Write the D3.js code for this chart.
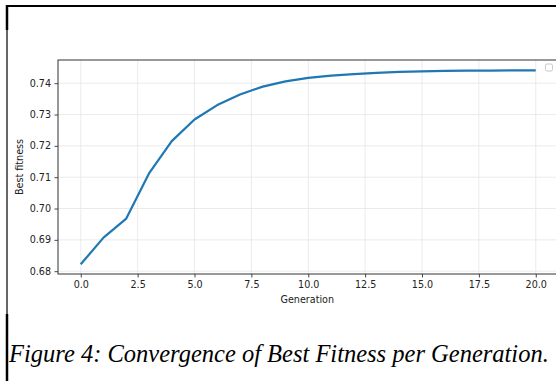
<!DOCTYPE html>
<html>
<head>
<meta charset="utf-8">
<script src="https://cdn.jsdelivr.net/npm/d3@7"></script>
<style>
  body { margin: 0; background: #fff; }
  svg { display: block; }
  .caption { font-family: "Liberation Serif", "Times New Roman", Times, serif; font-style: italic; }
</style>
</head>
<body>
<svg id="chart" width="556" height="381"></svg>
<script>
// chart values
const generations = d3.range(0, 21);
const bestFitness = [0.6822, 0.6907, 0.6968, 0.7112, 0.7215, 0.7284, 0.7330, 0.7364,
    0.7389, 0.7406, 0.7417, 0.7424, 0.7429, 0.7433, 0.7436, 0.7438, 0.7439,
    0.7440, 0.7440, 0.7441, 0.7441];
const xTicks = [0, 2.5, 5, 7.5, 10, 12.5, 15, 17.5, 20];
const yTicks = [0.68, 0.69, 0.70, 0.71, 0.72, 0.73, 0.74];
const caption = 'Figure 4: Convergence of Best Fitness per Generation.';

const svg = d3.select('#chart');

// page frame
svg.append('line').attr('x1', 6).attr('x2', 556).attr('y1', 6).attr('y2', 6)
    .attr('stroke', '#000').attr('stroke-width', 2);
svg.append('line').attr('x1', 7).attr('x2', 7).attr('y1', 5).attr('y2', 381)
    .attr('stroke', '#000').attr('stroke-width', 1.2);
svg.append('line').attr('x1', 7).attr('x2', 7).attr('y1', 5).attr('y2', 30)
    .attr('stroke', '#000').attr('stroke-width', 2.5);
svg.append('line').attr('x1', 7).attr('x2', 7).attr('y1', 314).attr('y2', 381)
    .attr('stroke', '#000').attr('stroke-width', 2.5);

const plotLeft = 58, plotTop = 60, plotBottom = 274, plotRight = 558.5;

const x = d3.scaleLinear().domain([-1, 21]).range([plotLeft, plotRight]);
const y = d3.scaleLinear().domain([0.6791, 0.7474]).range([plotBottom, plotTop]);

// grid
const grid = svg.append('g').attr('class', 'grid')
    .attr('stroke', '#e6e6e6').attr('stroke-width', 0.8);
grid.selectAll('.gx').data(xTicks).join('line').attr('class', 'gx')
    .attr('x1', d => x(d)).attr('x2', d => x(d))
    .attr('y1', plotTop).attr('y2', plotBottom);
grid.selectAll('.gy').data(yTicks).join('line').attr('class', 'gy')
    .attr('x1', plotLeft).attr('x2', plotRight)
    .attr('y1', d => y(d)).attr('y2', d => y(d));

// line
const line = d3.line()
    .x((d, i) => x(generations[i]))
    .y(d => y(d));
svg.append('path')
    .datum(bestFitness)
    .attr('fill', 'none')
    .attr('stroke', '#1f77b4')
    .attr('stroke-width', 2.2)
    .attr('stroke-linejoin', 'round')
    .attr('d', line);

// spines
svg.append('rect')
    .attr('x', plotLeft).attr('y', plotTop)
    .attr('width', plotRight - plotLeft).attr('height', plotBottom - plotTop)
    .attr('fill', 'none').attr('stroke', '#333').attr('stroke-width', 1);

// axes
const xAxis = d3.axisBottom(x).tickValues(xTicks).tickFormat(d3.format('.1f'))
    .tickSize(3.5).tickPadding(3.5);
const yAxis = d3.axisLeft(y).tickValues(yTicks).tickFormat(d3.format('.2f'))
    .tickSize(3.5).tickPadding(3.5);

const xg = svg.append('g').attr('transform', `translate(0,${plotBottom})`).call(xAxis);
const yg = svg.append('g').attr('transform', `translate(${plotLeft},0)`).call(yAxis);
[xg, yg].forEach(g => {
    g.select('.domain').remove();
    g.selectAll('line').attr('stroke', '#333').attr('stroke-width', 0.9);
    g.selectAll('text').attr('fill', '#222')
        .style('font-family', 'DejaVu Sans, sans-serif').style('font-size', '9.6px');
});

// axis titles
svg.append('text')
    .attr('x', (plotLeft + plotRight) / 2 - 1).attr('y', 303)
    .attr('text-anchor', 'middle')
    .style('font-family', 'DejaVu Sans, sans-serif').style('font-size', '9.6px')
    .attr('fill', '#222')
    .text('Generation');
svg.append('text')
    .attr('transform', `translate(23,${(plotTop + plotBottom) / 2}) rotate(-90)`)
    .attr('text-anchor', 'middle')
    .style('font-family', 'DejaVu Sans, sans-serif').style('font-size', '9.6px')
    .attr('fill', '#222')
    .text('Best fitness');

// empty legend box
svg.append('rect')
    .attr('x', 545.5).attr('y', 64).attr('width', 7).attr('height', 7).attr('rx', 1.5)
    .attr('fill', '#fff').attr('stroke', '#bbb').attr('stroke-width', 0.8);

// caption
svg.append('text')
    .attr('class', 'caption')
    .attr('x', 9).attr('y', 362)
    .style('font-size', '24.5px')
    .attr('fill', '#000')
    .text(caption);
</script>
</body>
</html>
